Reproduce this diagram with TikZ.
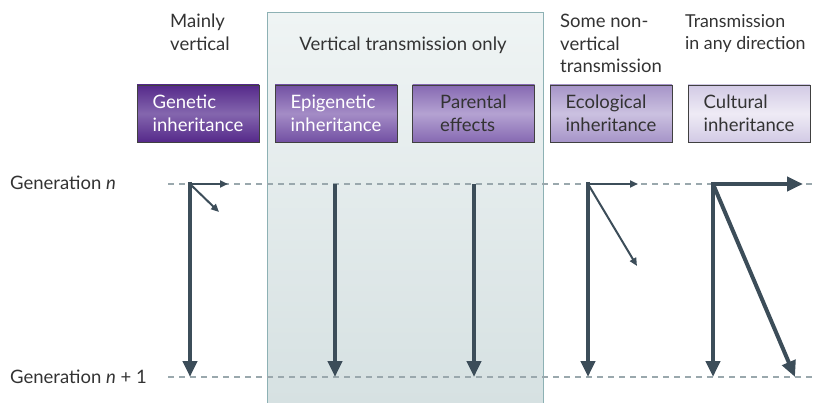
\documentclass[tikz,border=0pt]{standalone}
\usepackage{fontspec}
\setmainfont{Lato}
\usetikzlibrary{arrows.meta}
\definecolor{arr}{HTML}{3C4D59}
\definecolor{dashgray}{HTML}{9AA8AD}
\definecolor{txt}{HTML}{333333}
\definecolor{panelT}{HTML}{EFF4F4}
\definecolor{panelB}{HTML}{D6E1E2}
\definecolor{panelE}{HTML}{8DB1B4}
\definecolor{gen1}{HTML}{55298A}
\definecolor{gen2}{HTML}{8466AE}
\definecolor{epi1}{HTML}{7250A3}
\definecolor{epi2}{HTML}{A48CC6}
\definecolor{par1}{HTML}{8669B2}
\definecolor{par2}{HTML}{B4A2D2}
\definecolor{eco1}{HTML}{A694C8}
\definecolor{eco2}{HTML}{CBC1E0}
\definecolor{cul1}{HTML}{D2CAE5}
\definecolor{cul2}{HTML}{EEEBF5}
\tikzset{
  every node/.style={font=\fontsize{18.5}{22.5}\selectfont, text=txt},
  inhbox/.style={draw=black!75, line width=0.8pt, minimum width=122pt, minimum height=57pt,
     align=left, inner sep=0pt},
  head/.style={anchor=north west, align=left, inner sep=0pt},
  genline/.style={draw=dashgray, line width=1.2pt, dash pattern=on 6pt off 5pt},
  thickarr/.style={draw=arr, line width=4pt, -{Triangle[length=16pt,width=14pt]}},
  thinarr/.style={draw=arr, line width=2pt, -{Triangle[length=8pt,width=7pt]}},
}
\begin{document}
\begin{tikzpicture}[x=1pt,y=-1pt]
\useasboundingbox (0,0) rectangle (813,403);
% panel
\shade[top color=panelT, bottom color=panelB] (267,13) rectangle (543,403);
\draw[panelE, line width=1pt] (267,403) -- (267,13) -- (543,13) -- (543,403);
% headings
\node[head] (h1) at (170,14) {Mainly\\vertical};
\node[anchor=base, inner sep=0pt] (h2) at (403,51) {Vertical transmission only};
\node[head] (h3) at (560,14) {Some non-\\vertical\\transmission};
\node[head, font=\fontsize{17.8}{22.5}\selectfont] (h4) at (685,14) {Transmission\\in any direction};
% boxes
\node[inhbox, top color=gen1, bottom color=gen1, middle color=gen2, text=white] (b1) at (198,113.5) {Genetic\\inheritance};
\node[inhbox, top color=epi1, bottom color=epi1, middle color=epi2, text=white] (b2) at (336,113.5) {Epigenetic\\inheritance};
\node[inhbox, top color=par1, bottom color=par1, middle color=par2] (b3) at (473.5,113.5) {Parental\\effects};
\node[inhbox, top color=eco1, bottom color=eco1, middle color=eco2] (b4) at (611,113.5) {Ecological\\inheritance};
\node[inhbox, top color=cul1, bottom color=cul1, middle color=cul2] (b5) at (749,113.5) {Cultural\\inheritance};
% generation labels
\node[anchor=west, inner sep=0pt] (g0) at (10,183) {Generation \textit{n}};
\node[anchor=west, inner sep=0pt] (g1) at (10,377) {Generation \textit{n} + 1};
\coordinate (l0s) at (168,184); \coordinate (l0e) at (813,184);
\coordinate (l1s) at (168,377); \coordinate (l1e) at (813,377);
\draw[genline] (l0s) -- (l0e);
\draw[genline] (l1s) -- (l1e);
% arrows: genetic
\coordinate (a1) at (190,184);
\coordinate (a1v) at (190,377); \coordinate (a1h) at (228,184); \coordinate (a1d) at (219,212);
\draw[thickarr] (190,182) -- (a1v);
\draw[thinarr] (a1) -- (a1h);
\draw[thinarr] (a1) -- (a1d);
% epigenetic
\coordinate (a2) at (335,184); \coordinate (a2v) at (335,377);
\draw[thickarr] (a2) -- (a2v);
% parental
\coordinate (a3) at (474,184); \coordinate (a3v) at (474,377);
\draw[thickarr] (a3) -- (a3v);
% ecological
\coordinate (a4) at (588,184);
\coordinate (a4v) at (588,377); \coordinate (a4h) at (638,184); \coordinate (a4d) at (637,266);
\draw[thickarr] (588,182) -- (a4v);
\draw[thinarr] (a4) -- (a4h);
\draw[thinarr] (a4) -- (a4d);
% cultural
\coordinate (a5) at (713,184);
\coordinate (a5v) at (713,377); \coordinate (a5h) at (803,184); \coordinate (a5d) at (795,377);
\draw[thickarr] (713,182) -- (a5v);
\draw[thickarr, line width=4.5pt] (711,184) -- (a5h);
\draw[thickarr] (a5) -- (a5d);
\end{tikzpicture}
\end{document}
